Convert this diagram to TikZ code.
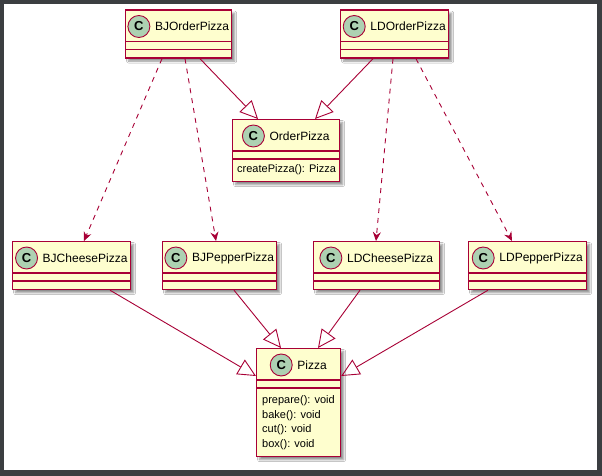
\documentclass[tikz,border=0pt]{standalone}
\usepackage{fontspec}
\setmainfont{Liberation Sans}
\usetikzlibrary{arrows.meta,calc,shadows.blur}

\definecolor{umlborder}{HTML}{A80036}
\definecolor{umlfill}{HTML}{FEFECE}
\definecolor{umlspot}{HTML}{ADD1B2}
\definecolor{framedark}{HTML}{3B3E41}

\tikzset{
  classbox/.style={rectangle, draw=umlborder, fill=umlfill, line width=1.2pt,
    inner sep=0pt, anchor=north west,
    blur shadow={shadow xshift=3pt, shadow yshift=-3pt, shadow blur steps=6,
      shadow blur radius=2pt, shadow opacity=45}},
  classname/.style={inner sep=0pt, font=\fontsize{12}{14}\selectfont},
  member/.style={inner sep=0pt, anchor=west, font=\fontsize{11}{13}\selectfont},
  spot/.style={circle, draw=umlborder, fill=umlspot, line width=0.9pt,
    minimum size=22pt, inner sep=0pt, font=\fontsize{13}{13}\selectfont\bfseries},
  sepline/.style={draw=umlborder, line width=1.2pt},
  extends/.style={draw=umlborder, line width=0.9pt,
    -{Triangle[open, length=18pt, width=17pt]}},
  uses/.style={draw=umlborder, line width=0.9pt, dash pattern=on 5pt off 5pt,
    -{Stealth[length=9pt, width=8pt, inset=3pt]}},
}

% class box: name, left, top, width, height, title
\newcommand{\umlclass}[6]{%
  \node[classbox, minimum width=#4pt, minimum height=#5pt] (#1) at (#2,#3) {};
  \node[classname] (#1-title) at ($(#1.north)+(13.5pt,-17pt)$) {#6};
  \node[spot] (#1-spot) at ($(#1-title.west)+(-16pt,0pt)$) {C};
  \draw[sepline] ($(#1.north west)+(0pt,-32pt)$) -- ($(#1.north east)+(0pt,-32pt)$);
  \draw[sepline] ($(#1.north west)+(0pt,-40pt)$) -- ($(#1.north east)+(0pt,-40pt)$);
}

\begin{document}
\begin{tikzpicture}[x=1pt, y=-1pt]
  % frame
  \fill[framedark] (0,0) rectangle (602,476);
  \fill[white] (4,4) rectangle (597,470);
  \useasboundingbox (0,0) rectangle (602,476);

  % classes
  \umlclass{BJOrderPizza}{125}{9.5}{106}{48}{BJOrderPizza}
  \umlclass{LDOrderPizza}{340}{9.5}{108}{48}{LDOrderPizza}
  \umlclass{OrderPizza}{232}{119}{107}{62}{OrderPizza}
  \node[member] (OrderPizza-m1) at ($(OrderPizza.north west)+(5pt,-51pt)$) {createPizza(): Pizza};

  \umlclass{BJCheesePizza}{12}{241}{118}{48}{BJCheesePizza}
  \umlclass{BJPepperPizza}{162}{241}{114}{48}{BJPepperPizza}
  \umlclass{LDCheesePizza}{313}{241}{126}{48}{LDCheesePizza}
  \umlclass{LDPepperPizza}{468}{241}{118}{48}{LDPepperPizza}

  \umlclass{Pizza}{256}{348}{84}{108}{Pizza}
  \node[member] (Pizza-m1) at ($(Pizza.north west)+(6pt,-53pt)$) {prepare(): void};
  \node[member] (Pizza-m2) at ($(Pizza.north west)+(6pt,-67.5pt)$) {bake(): void};
  \node[member] (Pizza-m3) at ($(Pizza.north west)+(6pt,-82pt)$) {cut(): void};
  \node[member] (Pizza-m4) at ($(Pizza.north west)+(6pt,-96.5pt)$) {box(): void};

  % generalisations
  \draw[extends] ([xshift=75pt]BJOrderPizza.south west) -- ([xshift=26pt]OrderPizza.north west);
  \draw[extends] ([xshift=33pt]LDOrderPizza.south west) -- ([xshift=83pt]OrderPizza.north west);
  \draw[extends] ([xshift=98pt]BJCheesePizza.south west) -- ([yshift=-28pt]Pizza.north west);
  \draw[extends] ([xshift=72pt]BJPepperPizza.south west) -- ([xshift=25pt]Pizza.north west);
  \draw[extends] ([xshift=47pt]LDCheesePizza.south west) -- ([xshift=62pt]Pizza.north west);
  \draw[extends] ([xshift=20pt]LDPepperPizza.south west) -- ([yshift=-28pt]Pizza.north east);

  % dependencies
  \draw[uses] ([xshift=37pt]BJOrderPizza.south west) -- ([xshift=72pt]BJCheesePizza.north west);
  \draw[uses] ([xshift=60pt]BJOrderPizza.south west) -- ([xshift=54pt]BJPepperPizza.north west);
  \draw[uses] ([xshift=53pt]LDOrderPizza.south west) -- ([xshift=63pt]LDCheesePizza.north west);
  \draw[uses] ([xshift=76pt]LDOrderPizza.south west) -- ([xshift=44pt]LDPepperPizza.north west);
\end{tikzpicture}
\end{document}
